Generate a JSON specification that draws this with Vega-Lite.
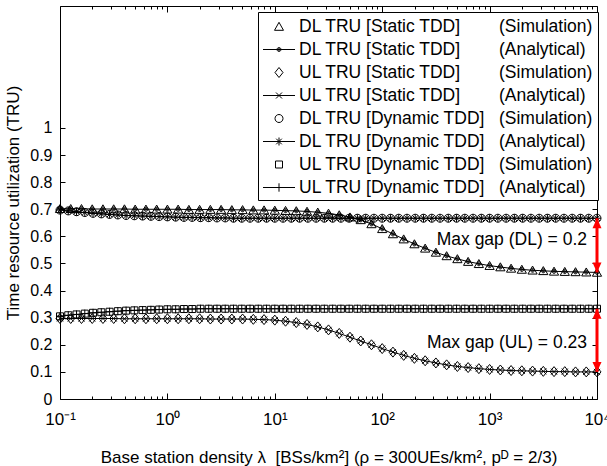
{
 "$schema": "https://vega.github.io/schema/vega-lite/v6.json",
 "width": 537, "height": 393,
 "autosize": {"type": "none"},
 "padding": {"left": 60, "top": 6, "right": 10, "bottom": 67},
 "datasets": {
  "static": [
   {"x":0.1,"DL":0.702,"UL":0.297},{"x":0.12589,"DL":0.702,"UL":0.297},{"x":0.15849,"DL":0.702,"UL":0.297},{"x":0.19953,"DL":0.701,"UL":0.297},{"x":0.25119,"DL":0.701,"UL":0.297},{"x":0.31623,"DL":0.701,"UL":0.297},{"x":0.39811,"DL":0.701,"UL":0.296},{"x":0.50119,"DL":0.700,"UL":0.296},{"x":0.63096,"DL":0.700,"UL":0.296},{"x":0.79433,"DL":0.700,"UL":0.296},
   {"x":1,"DL":0.700,"UL":0.296},{"x":1.2589,"DL":0.700,"UL":0.296},{"x":1.5849,"DL":0.699,"UL":0.296},{"x":1.9953,"DL":0.699,"UL":0.296},{"x":2.5119,"DL":0.699,"UL":0.295},{"x":3.1623,"DL":0.699,"UL":0.295},{"x":3.9811,"DL":0.698,"UL":0.295},{"x":5.0119,"DL":0.698,"UL":0.295},{"x":6.3096,"DL":0.697,"UL":0.294},{"x":7.9433,"DL":0.697,"UL":0.293},
   {"x":10,"DL":0.696,"UL":0.291},{"x":12.589,"DL":0.695,"UL":0.287},{"x":15.849,"DL":0.694,"UL":0.282},{"x":19.953,"DL":0.692,"UL":0.275},{"x":25.119,"DL":0.689,"UL":0.266},{"x":31.623,"DL":0.685,"UL":0.255},{"x":39.811,"DL":0.679,"UL":0.242},{"x":50.119,"DL":0.671,"UL":0.228},{"x":63.096,"DL":0.661,"UL":0.214},{"x":79.433,"DL":0.646,"UL":0.200},
   {"x":100,"DL":0.628,"UL":0.186},{"x":125.89,"DL":0.609,"UL":0.173},{"x":158.49,"DL":0.590,"UL":0.161},{"x":199.53,"DL":0.572,"UL":0.150},{"x":251.19,"DL":0.556,"UL":0.141},{"x":316.23,"DL":0.541,"UL":0.133},{"x":398.11,"DL":0.528,"UL":0.126},{"x":501.19,"DL":0.517,"UL":0.120},{"x":630.96,"DL":0.507,"UL":0.116},{"x":794.33,"DL":0.499,"UL":0.112},
   {"x":1000,"DL":0.492,"UL":0.109},{"x":1258.9,"DL":0.487,"UL":0.107},{"x":1584.9,"DL":0.482,"UL":0.105},{"x":1995.3,"DL":0.478,"UL":0.104},{"x":2511.9,"DL":0.475,"UL":0.103},{"x":3162.3,"DL":0.473,"UL":0.102},{"x":3981.1,"DL":0.471,"UL":0.101},{"x":5011.9,"DL":0.470,"UL":0.101},{"x":6309.6,"DL":0.469,"UL":0.100},{"x":7943.3,"DL":0.468,"UL":0.100},
   {"x":10000,"DL":0.467,"UL":0.100}
  ],
  "dynamic": [
   {"x":0.1,"DL":0.697,"UL":0.305},{"x":0.11938,"DL":0.694,"UL":0.309},{"x":0.14251,"DL":0.691,"UL":0.312},{"x":0.17013,"DL":0.688,"UL":0.315},{"x":0.20309,"DL":0.685,"UL":0.318},{"x":0.24245,"DL":0.683,"UL":0.320},{"x":0.28943,"DL":0.681,"UL":0.322},{"x":0.34551,"DL":0.679,"UL":0.324},{"x":0.41247,"DL":0.677,"UL":0.326},{"x":0.49239,"DL":0.676,"UL":0.327},{"x":0.5878,"DL":0.675,"UL":0.328},{"x":0.7017,"DL":0.674,"UL":0.329},{"x":0.83768,"DL":0.673,"UL":0.330},
   {"x":1,"DL":0.672,"UL":0.331},{"x":1.1938,"DL":0.671,"UL":0.331},{"x":1.4251,"DL":0.670,"UL":0.332},{"x":1.7013,"DL":0.670,"UL":0.332},{"x":2.0309,"DL":0.669,"UL":0.333},{"x":2.4245,"DL":0.669,"UL":0.333},{"x":2.8943,"DL":0.668,"UL":0.333},{"x":3.4551,"DL":0.668,"UL":0.333},{"x":4.1247,"DL":0.667,"UL":0.333},{"x":4.9239,"DL":0.667,"UL":0.333},{"x":5.878,"DL":0.667,"UL":0.333},{"x":7.017,"DL":0.667,"UL":0.333},{"x":8.3768,"DL":0.667,"UL":0.333},
   {"x":10,"DL":0.667,"UL":0.333},{"x":11.938,"DL":0.667,"UL":0.333},{"x":14.251,"DL":0.667,"UL":0.333},{"x":17.013,"DL":0.667,"UL":0.333},{"x":20.309,"DL":0.667,"UL":0.333},{"x":24.245,"DL":0.667,"UL":0.333},{"x":28.943,"DL":0.667,"UL":0.333},{"x":34.551,"DL":0.667,"UL":0.333},{"x":41.247,"DL":0.667,"UL":0.333},{"x":49.239,"DL":0.667,"UL":0.333},{"x":58.78,"DL":0.667,"UL":0.333},{"x":70.17,"DL":0.667,"UL":0.333},{"x":83.768,"DL":0.667,"UL":0.333},
   {"x":100,"DL":0.667,"UL":0.333},{"x":119.38,"DL":0.667,"UL":0.333},{"x":142.51,"DL":0.667,"UL":0.333},{"x":170.13,"DL":0.667,"UL":0.333},{"x":203.09,"DL":0.667,"UL":0.333},{"x":242.45,"DL":0.667,"UL":0.333},{"x":289.43,"DL":0.667,"UL":0.333},{"x":345.51,"DL":0.667,"UL":0.333},{"x":412.47,"DL":0.667,"UL":0.333},{"x":492.39,"DL":0.667,"UL":0.333},{"x":587.8,"DL":0.667,"UL":0.333},{"x":701.7,"DL":0.667,"UL":0.333},{"x":837.68,"DL":0.667,"UL":0.333},
   {"x":1000,"DL":0.667,"UL":0.333},{"x":1193.8,"DL":0.667,"UL":0.333},{"x":1425.1,"DL":0.667,"UL":0.333},{"x":1701.3,"DL":0.667,"UL":0.333},{"x":2030.9,"DL":0.667,"UL":0.333},{"x":2424.5,"DL":0.667,"UL":0.333},{"x":2894.3,"DL":0.667,"UL":0.333},{"x":3455.1,"DL":0.667,"UL":0.333},{"x":4124.7,"DL":0.667,"UL":0.333},{"x":4923.9,"DL":0.667,"UL":0.333},{"x":5878,"DL":0.667,"UL":0.333},{"x":7017,"DL":0.667,"UL":0.333},{"x":8376.8,"DL":0.667,"UL":0.333},
   {"x":10000,"DL":0.667,"UL":0.333}
  ],
  "gaps": [{"x":10000,"top":0.667,"bot":0.467},{"x":10000,"top":0.333,"bot":0.100}],
  "notes": [{"x":10000,"y":0.585,"t":"Max gap (DL) = 0.2"},{"x":10000,"y":0.208,"t":"Max gap (UL) = 0.23"}]
 },
 "config": {
  "view": {"stroke": "#000", "strokeWidth": 1},
  "font": "Liberation Sans",
  "axis": {"domain": false, "grid": false, "labelFont": "Liberation Sans", "labelFontSize": 16, "labelColor": "#000", "titleFont": "Liberation Sans", "titleFontSize": 17, "titleFontWeight": "normal", "titleColor": "#000", "tickColor": "#000", "tickWidth": 1}
 },
 "resolve": {"scale": {"shape": "independent"}, "axis": {"x": "independent", "y": "independent"}},
 "layer": [
  {
   "data": {"name": "static"},
   "transform": [{"fold": ["DL", "UL"], "as": ["c", "v"]}],
   "mark": {"type": "line", "color": "#000", "strokeWidth": 1},
   "encoding": {
    "x": {"field": "x", "type": "quantitative", "scale": {"type": "log", "domain": [0.1, 10000], "nice": false},
     "axis": {"orient": "bottom", "values": [0.1,0.2,0.3,0.4,0.5,0.6,0.7,0.8,0.9,1,2,3,4,5,6,7,8,9,10,20,30,40,50,60,70,80,90,100,200,300,400,500,600,700,800,900,1000,2000,3000,4000,5000,6000,7000,8000,9000,10000],
      "labelExpr": "datum.value == 0.1 ? '10⁻¹' : datum.value == 1 ? '10⁰' : datum.value == 10 ? '10¹' : datum.value == 100 ? '10²' : datum.value == 1000 ? '10³' : datum.value == 10000 ? '10⁴' : ''",
      "tickSize": {"condition": {"test": "indexof([0.1,1,10,100,1000,10000], datum.value) >= 0", "value": -6}, "value": -3},
      "labelPadding": 18, "labelFontSize": 17, "labelFlush": false, "labelOverlap": false, "labelBound": false,
      "title": "Base station density λ\u00a0\u00a0[BSs/km²] (ρ = 300UEs/km², pᴰ = 2/3)", "titlePadding": 19}},
    "y": {"field": "v", "type": "quantitative", "scale": {"domain": [0, 1.45], "nice": false, "zero": false},
     "axis": {"orient": "left", "values": [0,0.1,0.2,0.3,0.4,0.5,0.6,0.7,0.8,0.9,1], "format": ".1~f", "tickSize": -5, "labelPadding": 13, "title": "Time resource utilization (TRU)", "titlePadding": 7}},
    "detail": {"field": "c"}
   }
  },
  {
   "data": {"name": "dynamic"},
   "transform": [{"fold": ["DL", "UL"], "as": ["c", "v"]}],
   "mark": {"type": "line", "color": "#000", "strokeWidth": 1},
   "encoding": {
    "x": {"field": "x", "type": "quantitative", "scale": {"type": "log", "domain": [0.1, 10000], "nice": false},
     "axis": {"orient": "top", "values": [0.1,0.2,0.3,0.4,0.5,0.6,0.7,0.8,0.9,1,2,3,4,5,6,7,8,9,10,20,30,40,50,60,70,80,90,100,200,300,400,500,600,700,800,900,1000,2000,3000,4000,5000,6000,7000,8000,9000,10000],
      "labels": false, "title": null,
      "tickSize": {"condition": {"test": "indexof([0.1,1,10,100,1000,10000], datum.value) >= 0", "value": -6}, "value": -3}}},
    "y": {"field": "v", "type": "quantitative", "scale": {"domain": [0, 1.45], "nice": false, "zero": false},
     "axis": {"orient": "right", "values": [0,0.1,0.2,0.3,0.4,0.5,0.6,0.7,0.8,0.9,1], "labels": false, "tickSize": -5, "title": null}},
    "detail": {"field": "c"}
   }
  },
  {
   "data": {"name": "static"},
   "transform": [{"fold": ["DL", "UL"], "as": ["c", "v"]}],
   "mark": {"type": "point", "color": "#000", "filled": false, "strokeWidth": 1, "size": 64, "opacity": 1},
   "encoding": {
    "x": {"field": "x", "type": "quantitative", "axis": null},
    "y": {"field": "v", "type": "quantitative", "axis": null},
    "shape": {"field": "c", "type": "nominal", "legend": null, "scale": {"domain": ["DL", "UL"], "range": ["M0,-1.05L1.15,0.95L-1.15,0.95Z", "M0,-1.25L1,0L0,1.25L-1,0Z"]}}
   }
  },
  {
   "data": {"name": "static"},
   "transform": [{"fold": ["DL", "UL"], "as": ["c", "v"]}],
   "mark": {"type": "point", "color": "#000", "filled": false, "strokeWidth": 1, "size": 64, "opacity": 1},
   "encoding": {
    "x": {"field": "x", "type": "quantitative", "axis": null},
    "y": {"field": "v", "type": "quantitative", "axis": null},
    "shape": {"field": "c", "type": "nominal", "legend": null, "scale": {"domain": ["DL", "UL"], "range": ["M0.5,0A0.5,0.5,0,1,1,-0.5,0A0.5,0.5,0,1,1,0.5,0M0.25,0A0.25,0.25,0,1,1,-0.25,0A0.25,0.25,0,1,1,0.25,0M-0.1,0H0.1", "M-0.75,-0.75L0.75,0.75M-0.75,0.75L0.75,-0.75"]}}
   }
  },
  {
   "data": {"name": "dynamic"},
   "transform": [{"fold": ["DL", "UL"], "as": ["c", "v"]}],
   "mark": {"type": "point", "color": "#000", "filled": false, "strokeWidth": 1, "size": 64, "opacity": 1},
   "encoding": {
    "x": {"field": "x", "type": "quantitative", "axis": null},
    "y": {"field": "v", "type": "quantitative", "axis": null},
    "shape": {"field": "c", "type": "nominal", "legend": null, "scale": {"domain": ["DL", "UL"], "range": ["M1,0A1,1,0,1,1,-1,0A1,1,0,1,1,1,0Z", "M-0.875,-0.875H0.875V0.875H-0.875Z"]}}
   }
  },
  {
   "data": {"name": "dynamic"},
   "transform": [{"fold": ["DL", "UL"], "as": ["c", "v"]}],
   "mark": {"type": "point", "color": "#000", "filled": false, "strokeWidth": 1, "size": 64, "opacity": 1},
   "encoding": {
    "x": {"field": "x", "type": "quantitative", "axis": null},
    "y": {"field": "v", "type": "quantitative", "axis": null},
    "shape": {"field": "c", "type": "nominal", "legend": null, "scale": {"domain": ["DL", "UL"], "range": ["M0,-1V1M-1,0H1M-0.7,-0.7L0.7,0.7M-0.7,0.7L0.7,-0.7", "M0,-1V1M-1,0H1"]}}
   }
  },
  {
   "data": {"values": []},
   "mark": {"type": "point", "color": "#000", "filled": false, "strokeWidth": 1},
   "encoding": {
    "x": {"field": "x", "type": "quantitative", "axis": null},
    "y": {"field": "v", "type": "quantitative", "axis": null},
    "shape": {"field": "s", "type": "nominal",
     "scale": {"domain": ["DLsS", "DLsA", "ULsS", "ULsA", "DLdS", "DLdA", "ULdS", "ULdA"],
      "range": ["M0.65,-0.42L1.1,0.38L0.2,0.38Z",
       "M-0.95,0H2.25M0.85,0A0.2,0.2,0,1,1,0.45,0A0.2,0.2,0,1,1,0.85,0M0.75,0A0.1,0.1,0,1,1,0.55,0A0.1,0.1,0,1,1,0.75,0",
       "M0.65,-0.5L1.05,0L0.65,0.5L0.25,0Z",
       "M-0.95,0H2.25M0.35,-0.3L0.95,0.3M0.35,0.3L0.95,-0.3",
       "M1.05,0A0.4,0.4,0,1,1,0.25,0A0.4,0.4,0,1,1,1.05,0Z",
       "M-0.95,0H2.25M0.65,-0.4V0.4M0.37,-0.28L0.93,0.28M0.37,0.28L0.93,-0.28",
       "M0.3,-0.35H1V0.35H0.3Z",
       "M-0.95,0H2.25M0.65,-0.42V0.42"]},
     "legend": {"title": null, "orient": "none", "legendX": 198, "legendY": 6, "padding": 4, "strokeColor": "#000", "fillColor": "#fff", "cornerRadius": 0,
      "symbolSize": 400, "symbolStrokeWidth": 1, "symbolStrokeColor": "#000", "symbolFillColor": "transparent", "symbolOpacity": 1,
      "labelFont": "Liberation Sans", "labelFontSize": 17.5, "labelColor": "#000", "labelLimit": 600, "labelOffset": 16, "rowPadding": 4,
      "labelExpr": "{'DLsS': 'DL TRU [Static TDD]\u00a0\u00a0\u00a0\u00a0\u00a0\u00a0\u00a0\u00a0(Simulation)', 'DLsA': 'DL TRU [Static TDD]\u00a0\u00a0\u00a0\u00a0\u00a0\u00a0\u00a0\u00a0(Analytical)', 'ULsS': 'UL TRU [Static TDD]\u00a0\u00a0\u00a0\u00a0\u00a0\u00a0\u00a0\u00a0(Simulation)', 'ULsA': 'UL TRU [Static TDD]\u00a0\u00a0\u00a0\u00a0\u00a0\u00a0\u00a0\u00a0(Analytical)', 'DLdS': 'DL TRU [Dynamic TDD]\u00a0\u00a0\u00a0(Simulation)', 'DLdA': 'DL TRU [Dynamic TDD]\u00a0\u00a0\u00a0(Analytical)', 'ULdS': 'UL TRU [Dynamic TDD]\u00a0\u00a0\u00a0(Simulation)', 'ULdA': 'UL TRU [Dynamic TDD]\u00a0\u00a0\u00a0(Analytical)'}[datum.label]"}}
   }
  },
  {
   "data": {"name": "gaps"},
   "mark": {"type": "rule", "color": "#ff0000", "strokeWidth": 3},
   "encoding": {
    "x": {"field": "x", "type": "quantitative", "axis": null},
    "y": {"field": "top", "type": "quantitative", "axis": null},
    "y2": {"field": "bot"}
   }
  },
  {
   "data": {"name": "gaps"},
   "mark": {"type": "point", "shape": "M0,0L0.9,2L-0.9,2Z", "filled": true, "color": "#ff0000", "size": 100, "opacity": 1},
   "encoding": {
    "x": {"field": "x", "type": "quantitative", "axis": null},
    "y": {"field": "top", "type": "quantitative", "axis": null}
   }
  },
  {
   "data": {"name": "gaps"},
   "mark": {"type": "point", "shape": "M0,0L0.9,-2L-0.9,-2Z", "filled": true, "color": "#ff0000", "size": 100, "opacity": 1},
   "encoding": {
    "x": {"field": "x", "type": "quantitative", "axis": null},
    "y": {"field": "bot", "type": "quantitative", "axis": null}
   }
  },
  {
   "data": {"name": "notes"},
   "mark": {"type": "text", "align": "right", "baseline": "middle", "dx": -10, "font": "Liberation Sans", "fontSize": 17.5, "color": "#000"},
   "encoding": {
    "x": {"field": "x", "type": "quantitative", "axis": null},
    "y": {"field": "y", "type": "quantitative", "axis": null},
    "text": {"field": "t"}
   }
  }
 ]
}
